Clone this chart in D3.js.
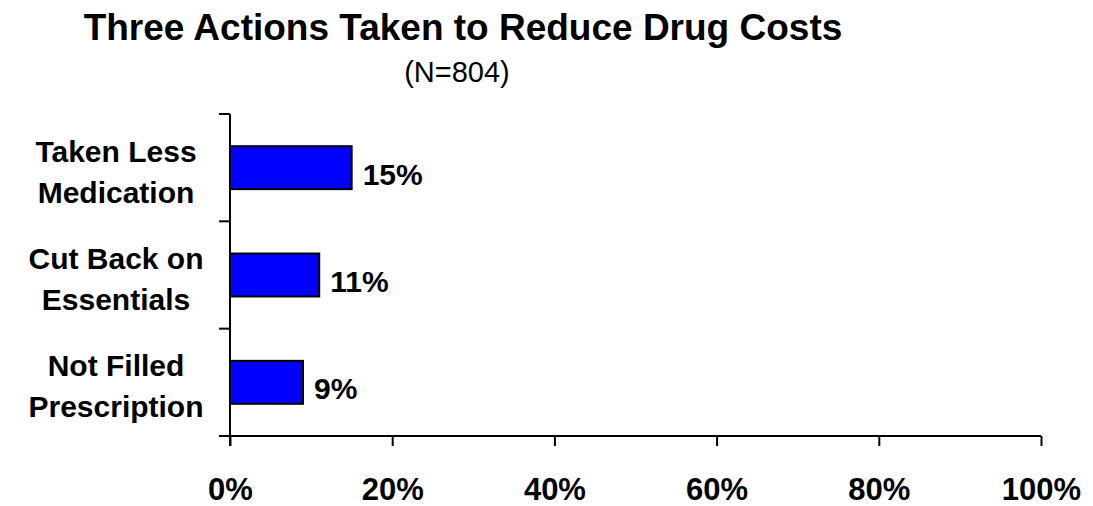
<!DOCTYPE html>
<html>
<head>
<meta charset="utf-8">
<script src="https://cdn.jsdelivr.net/npm/d3@7"></script>
<style>
  html, body { margin: 0; padding: 0; background: #fff; }
  svg { display: block; font-family: "Liberation Sans", Arial, sans-serif; }
</style>
</head>
<body>
<svg id="chart" width="1093" height="506"></svg>
<script>
// Survey results: share of respondents taking each action
const categories = [["Taken Less", "Medication"], ["Cut Back on", "Essentials"], ["Not Filled", "Prescription"]];
const values = [15, 11, 9];
const xTicks = [0, 20, 40, 60, 80, 100];
const title = "Three Actions Taken to Reduce Drug Costs";
const subtitle = "(N=804)";

const svg = d3.select("#chart");
const margin = { left: 230, right: 52, top: 114, bottom: 70 };
const W = 1093, H = 506;

const x = d3.scaleLinear().domain([0, 100]).range([margin.left, W - margin.right]);
const y = d3.scaleBand().domain(d3.range(categories.length)).range([margin.top, H - margin.bottom]).paddingInner(0.6).paddingOuter(0.3);
const yEdge = d3.scaleLinear().domain([0, categories.length]).range([margin.top, H - margin.bottom]);

// Title
svg.append("text")
  .attr("x", 463).attr("y", 40)
  .attr("text-anchor", "middle")
  .attr("font-size", 37).attr("font-weight", "bold")
  .text(title);
svg.append("text")
  .attr("x", 457).attr("y", 82)
  .attr("text-anchor", "middle")
  .attr("font-size", 29)
  .text(subtitle);

// Bars
svg.append("g").selectAll("rect")
  .data(values)
  .join("rect")
  .attr("x", x(0))
  .attr("y", (d, i) => y(i))
  .attr("width", d => x(d) - x(0))
  .attr("height", y.bandwidth())
  .attr("fill", "#0000ff")
  .attr("stroke", "#000")
  .attr("stroke-width", 2);

// Value labels
svg.append("g").selectAll("text")
  .data(values)
  .join("text")
  .attr("x", d => x(d) + 11)
  .attr("y", (d, i) => y(i) + y.bandwidth() / 2 + 17)
  .attr("font-size", 30).attr("font-weight", "bold")
  .text(d => d + "%");

// Category axis (vertical) with ticks at band edges
const yAxis = svg.append("g");
yAxis.append("line")
  .attr("x1", x(0)).attr("x2", x(0))
  .attr("y1", yEdge(0)).attr("y2", yEdge(categories.length) + 10)
  .attr("stroke", "#000").attr("stroke-width", 2);
yAxis.selectAll("line.tick")
  .data(d3.range(categories.length + 1))
  .join("line")
  .attr("class", "tick")
  .attr("x1", x(0) - 11).attr("x2", x(0))
  .attr("y1", d => yEdge(d)).attr("y2", d => yEdge(d))
  .attr("stroke", "#000").attr("stroke-width", 2);

// Category labels, two lines each
const catLabels = svg.append("g").selectAll("text")
  .data(categories)
  .join("text")
  .attr("text-anchor", "middle")
  .attr("font-size", 30).attr("font-weight", "bold");
catLabels.selectAll("tspan")
  .data((d, i) => d.map((line, j) => ({ line, j, i })))
  .join("tspan")
  .attr("x", 116)
  .attr("y", d => y(d.i) + y.bandwidth() / 2 - 6 + d.j * 41)
  .text(d => d.line);

// Value axis (horizontal)
const xAxis = d3.axisBottom(x)
  .tickValues(xTicks)
  .tickFormat(d => d + "%")
  .tickSize(10)
  .tickSizeOuter(0);
const gx = svg.append("g")
  .attr("transform", `translate(0,${yEdge(categories.length)})`)
  .call(xAxis);
gx.select(".domain").attr("stroke-width", 2).attr("d", `M${x(0) - 11},0H${x(100)}`);
gx.selectAll(".tick line").attr("stroke-width", 2);
gx.selectAll(".tick text")
  .attr("y", 64).attr("dy", null)
  .attr("font-size", 31).attr("font-weight", "bold")
  .attr("font-family", "'Liberation Sans', Arial, sans-serif")
  .attr("fill", "#000");
</script>
</body>
</html>
